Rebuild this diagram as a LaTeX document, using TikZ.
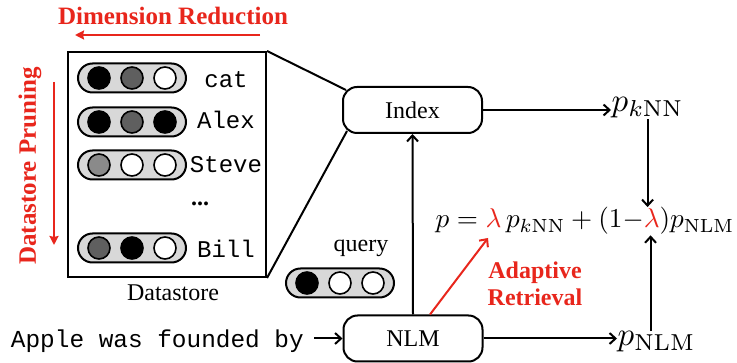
\documentclass[tikz,border=0pt]{standalone}
\usepackage[no-math]{fontspec}
\setmainfont{Liberation Serif}
\setmonofont{Liberation Mono}
\usetikzlibrary{arrows.meta,calc}
\definecolor{redA}{RGB}{232,38,28}
\definecolor{pillgray}{RGB}{216,216,216}
\definecolor{dgray}{RGB}{95,95,95}
\definecolor{mgray}{RGB}{138,138,138}
\tikzset{
  pillbox/.style={draw, line width=2pt, fill=pillgray, rounded corners=14.5pt,
    minimum width=108pt, minimum height=29pt, inner sep=0pt},
  vdot/.style={circle, draw, line width=1.6pt, minimum size=22pt, inner sep=0pt},
  tbox/.style={draw, line width=2pt, rounded corners=14pt, minimum width=139pt,
    minimum height=46pt, inner sep=0pt, font=\fontsize{24}{28}\selectfont},
  lbl/.style={inner sep=0pt, font=\fontsize{24}{28}\selectfont},
  monolbl/.style={inner sep=0pt, anchor=base, font=\ttfamily\fontsize{24}{28}\selectfont},
  redlbl/.style={inner sep=0pt, text=redA, font=\bfseries\fontsize{25}{27}\selectfont},
  mathlbl/.style={inner sep=0pt},
  arr/.style={-{Straight Barb[length=6pt,width=11pt,line width=2pt]}, line width=2pt},
  redarr/.style={-{Stealth[length=9pt,width=9pt,inset=1pt]}, line width=2pt, draw=redA},
  plainline/.style={line width=2pt},
}
\newcommand{\vecpill}[6]{%
  \node[pillbox] (#1) at (#2,#3) {};
  \node[vdot,fill=#4] (#1a) at ($(#1.center)+(-33,0)$) {};
  \node[vdot,fill=#5] (#1b) at (#1.center) {};
  \node[vdot,fill=#6] (#1c) at ($(#1.center)+(33,0)$) {};
}
\begin{document}
\begin{tikzpicture}[x=1pt,y=-1pt]
\useasboundingbox (0,0) rectangle (737,363);

% Datastore box
\node[draw, line width=2pt, minimum width=198pt, minimum height=225pt, inner sep=0pt] (ds) at (167,164.5) {};
\vecpill{cat}{132}{78}{black}{dgray}{white}
\vecpill{alex}{132}{122}{black}{dgray}{black}
\vecpill{steve}{132}{165}{mgray}{white}{white}
\vecpill{bill}{132}{248}{dgray}{black}{white}
\node[monolbl] (tcat) at (226,88) {cat};
\node[monolbl] (talex) at (226,129) {Alex};
\node[monolbl] (tsteve) at (226,173) {Steve};
\node[monolbl] (tbill) at (226,258) {Bill};
\node[lbl, anchor=base, font=\bfseries\fontsize{24}{28}\selectfont] (dots) at (200,206) {...};
\node[lbl, anchor=base] (dslbl) at (173,301) {Datastore};

% red annotations
\node[redlbl, anchor=base] (dimred) at (173,25) {Dimension Reduction};
\coordinate (dimA) at (260,35);
\coordinate (dimB) at (75,35);
\draw[redarr] (dimA) -- (dimB);
\node[redlbl, rotate=90] (prune) at (30,166) {Datastore Pruning};
\coordinate (prA) at (54,82);
\coordinate (prB) at (54,245);
\draw[redarr] (prA) -- (prB);

% Index and NLM
\node[tbox] (idx) at (412.5,110) {Index};
\node[tbox] (nlm) at (413,338.5) {NLM};
\draw[plainline] (ds.north east) -- ($(idx.north west)+(4,4)$);
\draw[plainline] (ds.south east) -- ($(idx.south west)+(5,-3)$);

% query
\node[lbl, anchor=base] (qlbl) at (361,252) {query};
\vecpill{q}{340}{283}{black}{white}{white}

% input
\node[monolbl, anchor=base east, font=\ttfamily\fontsize{24.4}{28}\selectfont] (inp) at (304,348) {Apple was founded by};
\draw[arr, shorten <=10pt] (inp.east |- nlm.west) -- (nlm.west);

% probabilities
\node[mathlbl, anchor=base west, scale=3.3] (pknn) at (611,112) {$p_{k\mathrm{NN}}$};
\node[mathlbl, anchor=base west, scale=3.3] (pnlm) at (617,346) {$p_{\mathrm{NLM}}$};
\node[mathlbl, anchor=base, scale=2.72] (form) at (585,228)
  {$p=\textcolor{redA}{\lambda}\,p_{k\mathrm{NN}}+(1{-}\textcolor{redA}{\lambda})p_{\mathrm{NLM}}$};

\draw[arr] (idx.east) -- (idx.east -| pknn.west);
\draw[arr] (nlm.east) -- (nlm.east -| pnlm.west);
\draw[arr] (nlm.north) -- (idx.south);
\draw[arr] (pknn.south) -- (pknn.south |- form.north);
\coordinate (pnup) at ($(pnlm.north)+(-6,0)$);
\draw[arr] (pnup) -- (pnup |- form.south);

% adaptive retrieval
\coordinate (adtip) at (488,238);
\draw[arr, draw=redA] ($(nlm.north)+(17,0)$) -- (adtip);
\node[redlbl, align=center, font=\bfseries\fontsize{24}{27}\selectfont] (adapt) at (535,284) {Adaptive\\Retrieval};
\end{tikzpicture}
\end{document}
